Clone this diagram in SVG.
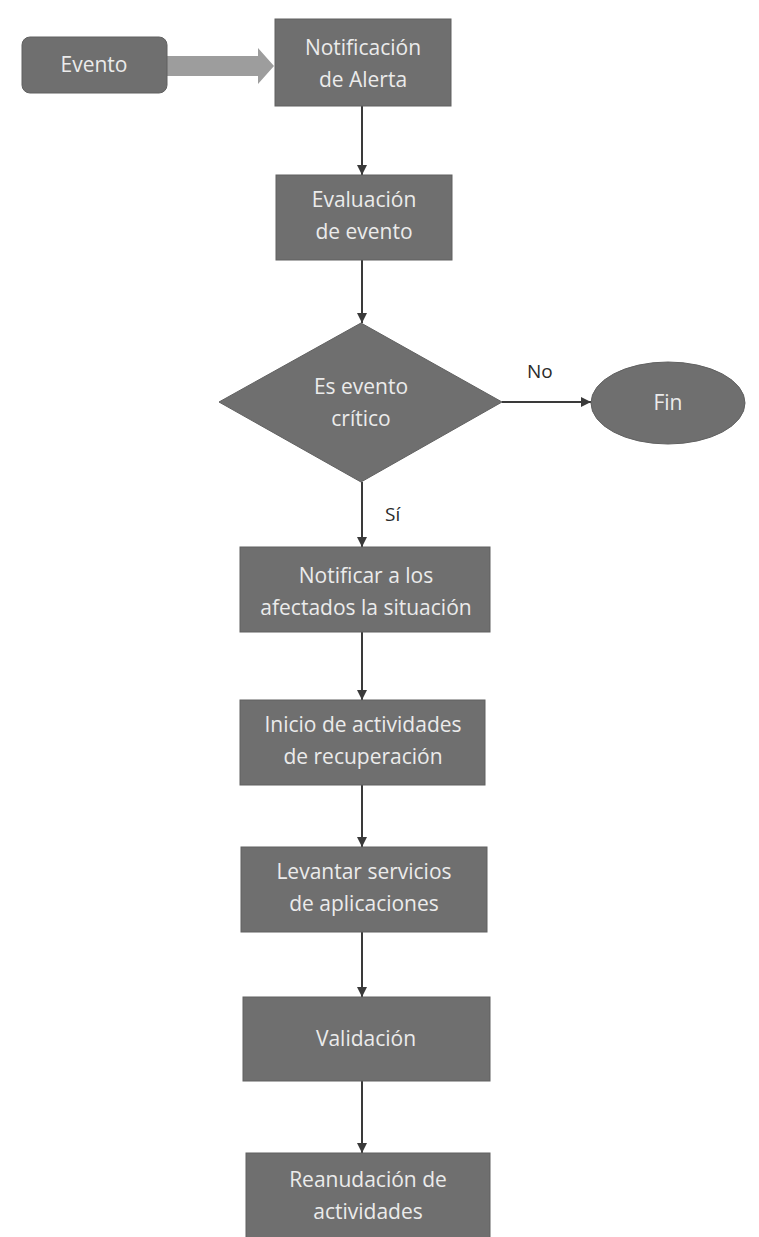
<svg xmlns="http://www.w3.org/2000/svg" width="759" height="1237" viewBox="0 0 759 1237">
<style>
.box{fill:#6f6f6f;stroke:#616161;stroke-width:1}
.t{font-family:"Open Sans","Liberation Sans",sans-serif;font-size:21px;fill:#ebebeb;text-anchor:middle}
.lbl{font-family:"Open Sans","Liberation Sans",sans-serif;font-size:19px;fill:#2a2a2a}
.c{stroke:#3a3a3a;stroke-width:2;fill:none;marker-end:url(#ah)}
</style>
<defs>
<marker id="ah" markerWidth="12" markerHeight="12" refX="10" refY="6" orient="auto" markerUnits="userSpaceOnUse">
<path d="M0,1 L10,6 L0,11 Z" fill="#3a3a3a"/>
</marker>
</defs>
<rect width="759" height="1237" fill="#ffffff"/>
<g id="connectors">
<path d="M167,56 L258,56 L258,48 L274,66 L258,84 L258,76 L167,76 Z" fill="#9d9d9d"/>
<line class="c" x1="362" y1="106" x2="362" y2="175"/>
<line class="c" x1="362" y1="260" x2="362" y2="323"/>
<line class="c" x1="502" y1="402" x2="591" y2="402"/>
<line class="c" x1="362" y1="482" x2="362" y2="547"/>
<line class="c" x1="362" y1="632" x2="362" y2="700"/>
<line class="c" x1="362" y1="785" x2="362" y2="847"/>
<line class="c" x1="362" y1="932" x2="362" y2="997"/>
<line class="c" x1="362" y1="1081" x2="362" y2="1153"/>
<text class="lbl" x="527" y="378">No</text>
<text class="lbl" x="385" y="521">Sí</text>
</g>
<g id="evento">
<rect class="box" x="22" y="37" width="145" height="56" rx="8"/>
<text class="t" x="94" y="72">Evento</text>
</g>
<g id="notificacion">
<rect class="box" x="275" y="19" width="176" height="87"/>
<text class="t" x="363" y="55">Notificación</text>
<text class="t" x="363" y="87">de Alerta</text>
</g>
<g id="evaluacion">
<rect class="box" x="276" y="175" width="176" height="85"/>
<text class="t" x="364" y="207">Evaluación</text>
<text class="t" x="364" y="239">de evento</text>
</g>
<g id="decision">
<polygon class="box" points="361,323 502,402 361,482 219,402"/>
<text class="t" x="361" y="394">Es evento</text>
<text class="t" x="361" y="426">crítico</text>
</g>
<g id="fin">
<ellipse class="box" cx="668" cy="403" rx="77" ry="41"/>
<text class="t" x="668" y="410">Fin</text>
</g>
<g id="notificar">
<rect class="box" x="240" y="547" width="250" height="85"/>
<text class="t" x="366" y="583">Notificar a los</text>
<text class="t" x="366" y="615">afectados la situación</text>
</g>
<g id="inicio">
<rect class="box" x="240" y="700" width="245" height="85"/>
<text class="t" x="363" y="732">Inicio de actividades</text>
<text class="t" x="363" y="764">de recuperación</text>
</g>
<g id="levantar">
<rect class="box" x="241" y="847" width="246" height="85"/>
<text class="t" x="364" y="879">Levantar servicios</text>
<text class="t" x="364" y="911">de aplicaciones</text>
</g>
<g id="validacion">
<rect class="box" x="243" y="997" width="247" height="84"/>
<text class="t" x="366" y="1046">Validación</text>
</g>
<g id="reanudacion">
<rect class="box" x="246" y="1153" width="244" height="90"/>
<text class="t" x="368" y="1187">Reanudación de</text>
<text class="t" x="368" y="1219">actividades</text>
</g>
</svg>
